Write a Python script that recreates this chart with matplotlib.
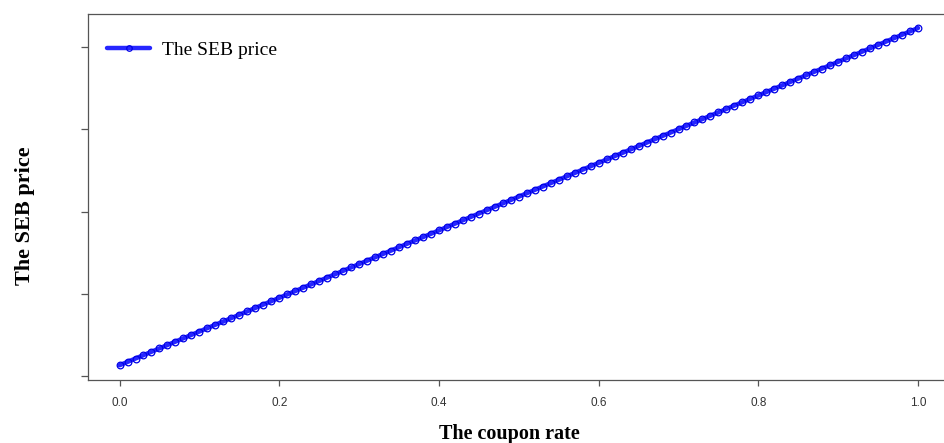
import matplotlib.pyplot as plt
import numpy as np


COUPON_RATE = [
    0.00, 0.01, 0.02, 0.03, 0.04, 0.05, 0.06, 0.07, 0.08, 0.09,
    0.10, 0.11, 0.12, 0.13, 0.14, 0.15, 0.16, 0.17, 0.18, 0.19,
    0.20, 0.21, 0.22, 0.23, 0.24, 0.25, 0.26, 0.27, 0.28, 0.29,
    0.30, 0.31, 0.32, 0.33, 0.34, 0.35, 0.36, 0.37, 0.38, 0.39,
    0.40, 0.41, 0.42, 0.43, 0.44, 0.45, 0.46, 0.47, 0.48, 0.49,
    0.50, 0.51, 0.52, 0.53, 0.54, 0.55, 0.56, 0.57, 0.58, 0.59,
    0.60, 0.61, 0.62, 0.63, 0.64, 0.65, 0.66, 0.67, 0.68, 0.69,
    0.70, 0.71, 0.72, 0.73, 0.74, 0.75, 0.76, 0.77, 0.78, 0.79,
    0.80, 0.81, 0.82, 0.83, 0.84, 0.85, 0.86, 0.87, 0.88, 0.89,
    0.90, 0.91, 0.92, 0.93, 0.94, 0.95, 0.96, 0.97, 0.98, 0.99,
    1.00,
]
SEB_PRICE = [
    0.134, 0.175, 0.216, 0.257, 0.298, 0.339, 0.380, 0.421, 0.462, 0.503,
    0.544, 0.585, 0.626, 0.666, 0.707, 0.748, 0.789, 0.830, 0.871, 0.912,
    0.953, 0.994, 1.035, 1.076, 1.117, 1.158, 1.199, 1.240, 1.281, 1.322,
    1.363, 1.404, 1.445, 1.486, 1.527, 1.568, 1.609, 1.650, 1.690, 1.731,
    1.772, 1.813, 1.854, 1.895, 1.936, 1.977, 2.018, 2.059, 2.100, 2.141,
    2.182, 2.223, 2.264, 2.305, 2.346, 2.387, 2.428, 2.469, 2.510, 2.551,
    2.592, 2.633, 2.674, 2.714, 2.755, 2.796, 2.837, 2.878, 2.919, 2.960,
    3.001, 3.042, 3.083, 3.124, 3.165, 3.206, 3.247, 3.288, 3.329, 3.370,
    3.411, 3.452, 3.493, 3.534, 3.575, 3.616, 3.657, 3.698, 3.738, 3.779,
    3.820, 3.861, 3.902, 3.943, 3.984, 4.025, 4.066, 4.107, 4.148, 4.189,
    4.230,
]
X_TICKS = [0.0, 0.2, 0.4, 0.6, 0.8, 1.0]
X_TICK_LABELS = ["0.0", "0.2", "0.4", "0.6", "0.8", "1.0"]
Y_TICKS = [0, 1, 2, 3, 4]

SERIF = ["Liberation Serif", "DejaVu Serif"]
SPINE_COLOR = "#555555"
BAND_COLOR = "#2626ff"
RING_COLOR = "#0000e6"


def main() -> None:
    fig = plt.figure(figsize=(9.45, 4.43), dpi=100)
    # the plot box runs past the right edge of the figure
    ax = fig.add_axes([87.6 / 945, 63 / 443, 862.4 / 945, 366 / 443])

    x = np.array(COUPON_RATE)
    y = np.array(SEB_PRICE)
    ax.plot(x, y, color=BAND_COLOR, linewidth=3.2, solid_capstyle="round", zorder=2)
    ax.plot(
        x, y, linestyle="none", marker="o", markersize=4.8,
        markerfacecolor="none", markeredgecolor=RING_COLOR, markeredgewidth=0.9,
        zorder=3,
    )

    # legend handle: the same band with a few rings on it
    handle = ax.plot(
        [], [], color=BAND_COLOR, linewidth=3.2, solid_capstyle="round",
        marker="o", markersize=4,
        markerfacecolor="none", markeredgecolor=RING_COLOR, markeredgewidth=0.9,
    )[0]
    ax.legend(
        [handle], ["The SEB price"], loc="upper left", frameon=False,
        prop={"family": SERIF, "size": 14}, handlelength=2.2,
        handletextpad=0.6, bbox_to_anchor=(0.007, 0.962), borderaxespad=0.3,
    )

    ax.set_xlim(-0.04, 1.04)
    ax.set_ylim(-0.045, 4.40)
    ax.set_xticks(X_TICKS)
    ax.set_xticklabels(X_TICK_LABELS, family="Liberation Sans", color="#333333")
    ax.set_yticks(Y_TICKS)
    ax.set_yticklabels([])
    ax.tick_params(axis="x", length=4, width=0.9, color=SPINE_COLOR,
                   labelsize=8.5, pad=8)
    ax.tick_params(axis="y", length=5, width=0.9, color=SPINE_COLOR)

    for spine in ax.spines.values():
        spine.set_color(SPINE_COLOR)
        spine.set_linewidth(0.9)
    ax.spines["right"].set_visible(False)

    ax.set_xlabel("The coupon rate", family=SERIF, fontsize=14.5, fontweight="bold")
    ax.xaxis.set_label_coords(0.4886, -0.12)
    ax.set_ylabel("The SEB price", family=SERIF, fontsize=16, fontweight="bold")
    ax.yaxis.set_label_coords(-0.061, 0.45)

    fig.savefig("out.png", dpi=100)
    plt.close(fig)


if __name__ == "__main__":
    main()
